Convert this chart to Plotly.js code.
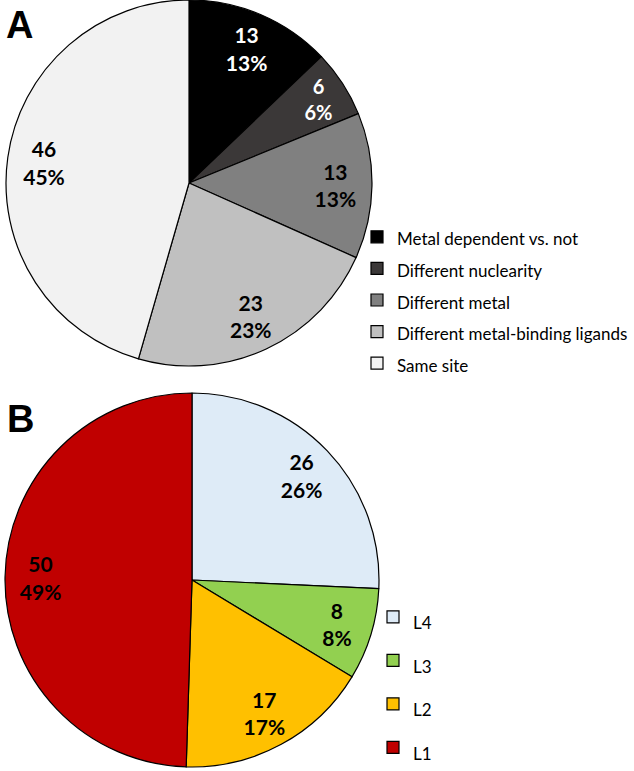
<!DOCTYPE html>
<html>
<head>
<meta charset="utf-8">
<script src="https://cdn.plot.ly/plotly-3.0.1.min.js"></script>
<style>html,body{margin:0;padding:0;background:#fff;}#chart{width:634px;height:771px;}</style>
</head>
<body>
<div id="chart"></div>
<script>
// Panel A data
const categoriesA = ['Metal dependent vs. not', 'Different nuclearity', 'Different metal', 'Different metal-binding ligands', 'Same site'];
const valuesA = [13, 6, 13, 23, 46];
const percentLabelsA = ['13%', '6%', '13%', '23%', '45%'];
const colorsA = ['#000000', '#3b3838', '#808080', '#c0c0c0', '#f2f2f2'];
const textColorsA = ['#ffffff', '#ffffff', '#000000', '#000000', '#000000'];

// Panel B data
const categoriesB = ['L4', 'L3', 'L2', 'L1'];
const valuesB = [26, 8, 17, 50];
const percentLabelsB = ['26%', '8%', '17%', '49%'];
const colorsB = ['#deebf7', '#92d050', '#ffc000', '#c00000'];
const textColorsB = ['#000000', '#000000', '#000000', '#000000'];

const W = 634, H = 771;
const px = v => v / W;
const py = v => (H - v) / H;

const domA = {x: [px(6), px(372)], y: [py(366), py(0)]};
const domB = {x: [px(5), px(379)], y: [py(767), py(393)]};

const legendLabel = (c) => '<span style="font-size:17px">' + c + '</span>';
const labelFont = 'Lato, "Open Sans", sans-serif';

function pieTrace(cats, vals, colors, dom, legendId) {
  return {
    type: 'pie',
    labels: cats.map(legendLabel),
    values: vals,
    sort: false,
    direction: 'clockwise',
    rotation: 0,
    domain: dom,
    marker: {colors: colors, line: {color: '#000000', width: 1.2}},
    textinfo: 'none',
    hoverinfo: 'label+value',
    legend: legendId,
    showlegend: true
  };
}

function labelTrace(cats, vals, pcts, textColors, dom, hole) {
  return {
    type: 'pie',
    labels: cats.map(legendLabel),
    values: vals,
    sort: false,
    direction: 'clockwise',
    rotation: 0,
    domain: dom,
    hole: hole,
    marker: {colors: cats.map(() => 'rgba(0,0,0,0)'), line: {width: 0}},
    text: vals.map((v, i) => v + '<br>' + pcts[i]),
    textinfo: 'text',
    textposition: 'inside',
    insidetextorientation: 'horizontal',
    textfont: {family: labelFont, size: 21, color: textColors, weight: 'bold'},
    hoverinfo: 'skip',
    showlegend: false
  };
}

const data = [
  pieTrace(categoriesA, valuesA, colorsA, domA, 'legend'),
  labelTrace(categoriesA, valuesA, percentLabelsA, textColorsA, domA, 0.6),
  pieTrace(categoriesB, valuesB, colorsB, domB, 'legend2'),
  labelTrace(categoriesB, valuesB, percentLabelsB, textColorsB, domB, 0.62)
];

const layout = {
  width: W,
  height: H,
  margin: {l: 0, r: 0, t: 0, b: 0, autoexpand: false},
  paper_bgcolor: '#ffffff',
  font: {family: labelFont, color: '#000000'},
  legend: {
    x: px(357), xanchor: 'left',
    y: py(216), yanchor: 'top',
    font: {size: 22, family: labelFont, color: '#000000'},
    bgcolor: 'rgba(0,0,0,0)',
    traceorder: 'normal'
  },
  legend2: {
    x: px(373), xanchor: 'left',
    y: py(590), yanchor: 'top',
    font: {size: 31.2, family: labelFont, color: '#000000'},
    bgcolor: 'rgba(0,0,0,0)',
    traceorder: 'normal'
  },
  annotations: [
    {text: '<b>A</b>', xref: 'paper', yref: 'paper', x: px(4), y: py(2), xanchor: 'left', yanchor: 'top',
     showarrow: false, font: {family: '"Liberation Sans", Arial, sans-serif', size: 38, color: '#000000'}},
    {text: '<b>B</b>', xref: 'paper', yref: 'paper', x: px(5), y: py(396), xanchor: 'left', yanchor: 'top',
     showarrow: false, font: {family: '"Liberation Sans", Arial, sans-serif', size: 38, color: '#000000'}}
  ]
};

Plotly.newPlot('chart', data, layout, {displayModeBar: false, staticPlot: true});
</script>
</body>
</html>
